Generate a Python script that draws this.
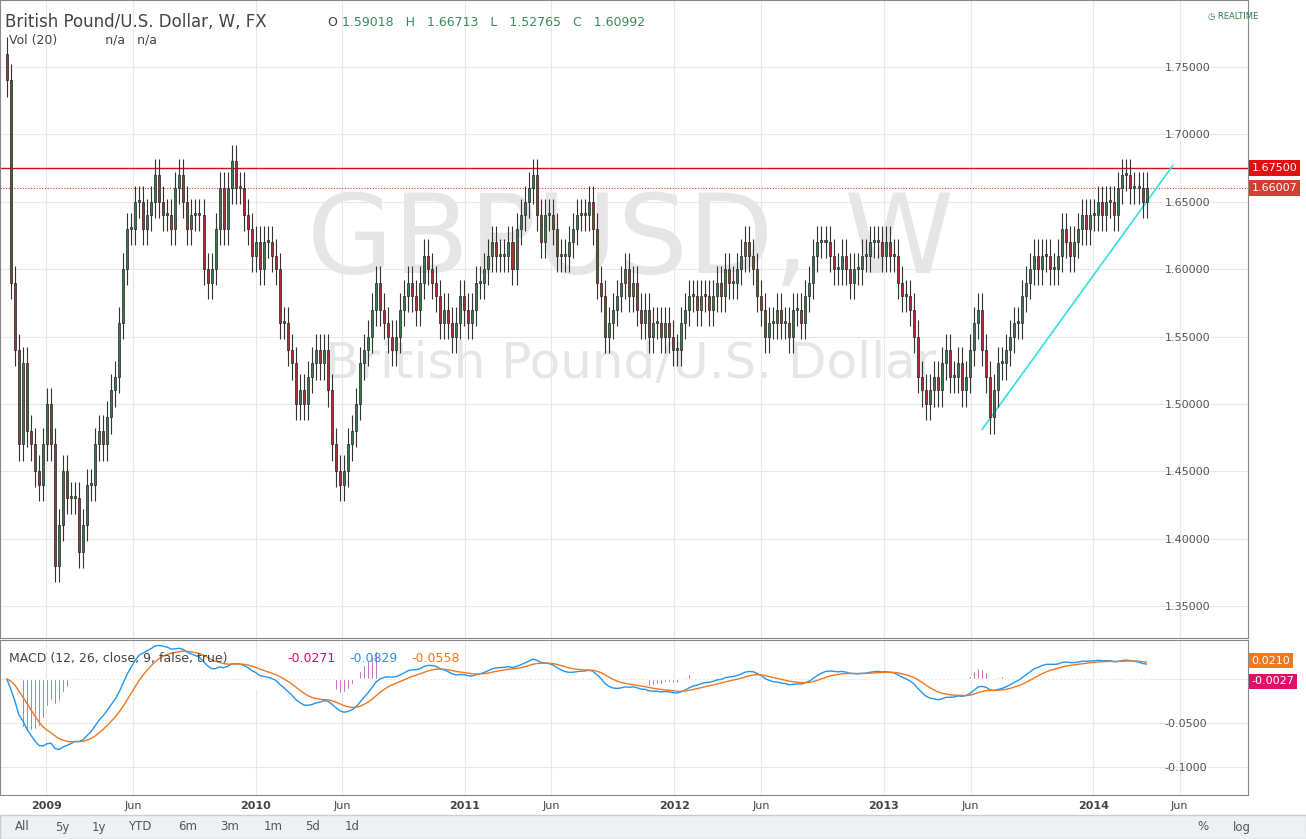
import numpy as np, pandas as pd, matplotlib
matplotlib.use("Agg")
import matplotlib.pyplot as plt, seaborn as sns

closes = [1.74,1.59,1.54,1.47,1.53,1.48,1.47,1.45,1.44,1.47,
 1.50,1.47,1.38,1.41, 1.45,1.43,1.43,1.43, 1.39,1.41,1.44,1.44, 1.47,1.48,1.47,1.49,
 1.51,1.52,1.56,1.60, 1.63,1.63,1.65,1.65, 1.63,1.64,1.65,1.67, 1.65,1.64,1.64,1.63,1.66,
 1.67,1.65,1.63,1.64,
 1.64,1.64,1.60,1.59, 1.60,1.63,1.66,1.63, 1.66,1.68,1.66,1.66, 1.64,1.63,1.61,1.62,
 1.60,1.62,1.62,1.61,1.60, 1.56,1.56,1.54,1.53, 1.50,1.51,1.50,1.52, 1.53,1.54,1.53,1.54,
 1.51,1.47,1.45,1.44, 1.45,1.47,1.48,1.50, 1.53,1.54,1.55,1.57, 1.59,1.57,1.56,1.55,
 1.54,1.55,1.57,1.58, 1.59,1.58,1.57,1.59, 1.61,1.60,1.59,1.58, 1.56,1.57,1.56,1.55,
 1.56,1.58,1.57,
 1.56,1.57,1.59,1.59, 1.60,1.61,1.62,1.61, 1.61,1.61,1.62,1.60, 1.63,1.64,1.65,1.66,
 1.67,1.64,1.62,1.64, 1.64,1.63,1.61,1.61, 1.61,1.62,1.63,1.64, 1.64,1.64,1.65,1.63,
 1.59,1.58,1.55,1.56, 1.57,1.58,1.59,1.60, 1.58,1.59,1.57,1.56, 1.57,1.55,1.56,
 1.56,1.55,1.56,1.55,
 1.54,1.54,1.56,1.57, 1.58,1.58,1.57,1.58, 1.58,1.57,1.58,1.59, 1.58,1.60,1.59,
 1.59,1.60,1.61,1.62,
 1.61,1.60,1.58,1.57, 1.55,1.56,1.56,1.57, 1.56,1.56,1.55,1.57, 1.57,1.56,1.58,1.59,
 1.61,1.62,1.62,1.62, 1.61,1.60,1.60,1.61, 1.60,1.59,1.60,1.60, 1.61,1.61,1.62,1.62,
 1.62,1.61,1.62,
 1.61,1.61,1.59,1.58, 1.58,1.57,1.55,1.52, 1.51,1.50,1.51,1.52, 1.51,1.53,1.54,1.52,
 1.52,1.53,1.51,1.52, 1.54,1.56,1.57,1.54, 1.52,1.49,1.51,1.53, 1.53,1.54,1.55,1.56,
 1.56,1.58,1.59,1.60, 1.61,1.60,1.61,1.61, 1.60,1.60,1.61,1.63, 1.62,1.61,1.62,1.63,
 1.64,1.63,1.64,1.64,
 1.65,1.64,1.65,1.65, 1.64,1.66,1.67,1.67, 1.66,1.66,1.66,1.65, 1.66]
first_open = 1.76
resistance = 1.675
last_price = 1.66007
trend_x = ["2013-06-21", "2014-05-20"]
trend_y = [1.481, 1.677]
year_ticks = ["2009","Jun","2010","Jun","2011","Jun","2012","Jun","2013","Jun","2014","Jun"]

n = len(closes)
dates = pd.date_range(end="2014-04-04", periods=n, freq="7D")
opens = [first_open] + closes[:-1]
df = pd.DataFrame({"date": dates, "open": opens, "close": closes})
df["high"] = df[["open","close"]].max(axis=1) + 0.012
df["low"] = df[["open","close"]].min(axis=1) - 0.012

c = df["close"]
ema12 = c.ewm(span=12, adjust=False).mean(); ema26 = c.ewm(span=26, adjust=False).mean()
df["macd"] = ema12 - ema26
df["signal"] = df["macd"].ewm(span=9, adjust=False).mean()
df["hist"] = df["macd"] - df["signal"]

sns.set_theme(style="white")
plt.rcParams['font.family'] = ['DejaVu Sans']
fig = plt.figure(figsize=(13.06, 8.39), dpi=100)
W, H = 1306, 839
ax = fig.add_axes([0, 1-638/H, 1248/W, 638/H])
ax2 = fig.add_axes([0, 1-795/H, 1248/W, 155/H], sharex=ax)

xmin, xmax = pd.Timestamp("2008-10-12"), pd.Timestamp("2014-09-28")
for a in (ax, ax2):
    a.set_facecolor("white")
    a.grid(True, color="#e8e8e8", lw=0.8)
    a.yaxis.tick_right()
    a.tick_params(axis="y", labelsize=8, colors="#555", length=0, pad=-60)
    for s in a.spines.values(): s.set_color("#888"); s.set_linewidth(0.8)
ax.set_xlim(xmin, xmax); ax.set_ylim(1.3263, 1.7997)
ax.set_yticks(np.arange(1.35, 1.76, 0.05))
ax.yaxis.set_major_formatter(plt.FuncFormatter(lambda v,p: f"{v:.5f}"))
ax2.set_ylim(-0.1318, 0.0443)
ax2.set_yticks([0.0, -0.05, -0.10])
ax2.yaxis.set_major_formatter(plt.FuncFormatter(lambda v,p: f"{v:.4f}" if v<0 else ""))
ax.tick_params(axis="x", labelbottom=False, length=0)

ax.text(0.505, 0.62, "GBPUSD, W", transform=ax.transAxes, ha="center", va="center", fontsize=80, color="#e6e6e6")
ax.text(0.505, 0.43, "British Pound/U.S. Dollar", transform=ax.transAxes, ha="center", va="center", fontsize=36, color="#e6e6e6")

up = df["close"] >= df["open"]
colr = np.where(up, "#3c7a4f", "#a63232")
ax.vlines(df["date"], df["low"], df["high"], color="#333", lw=0.8, zorder=3)
ax.bar(df["date"], (df["close"]-df["open"]).abs().clip(lower=0.0015), bottom=df[["open","close"]].min(axis=1),
       width=3.5, color=colr, edgecolor="#222", lw=0.5, zorder=4)
ax.axhline(resistance, color="#cc1111", lw=1)
ax.axhline(last_price, color="#cc4433", lw=0.8, ls=(0,(1,1.5)))
sns.lineplot(x=pd.to_datetime(trend_x), y=trend_y, ax=ax, color="#33e0e0", lw=1.2)
for val, fc in [(resistance, "#e01010"), (last_price, "#d04030")]:
    ax.text(1.003, val, f"{val:.5f}", transform=ax.get_yaxis_transform(), fontsize=8, color="white",
            va="center", ha="left", bbox=dict(boxstyle="square,pad=0.25", fc=fc, ec="none"), clip_on=False)

ax.text(0.004, 0.965, "British Pound/U.S. Dollar, W, FX", transform=ax.transAxes, fontsize=12, color="#444", va="center")
ax.text(0.262, 0.965, "O", transform=ax.transAxes, fontsize=9, color="#444", va="center")
ax.text(0.274, 0.965, "1.59018   H   1.66713   L   1.52765   C   1.60992", transform=ax.transAxes, fontsize=9, color="#3a8a5a", va="center")
ax.text(0.007, 0.937, "Vol (20)            n/a   n/a", transform=ax.transAxes, fontsize=9, color="#444", va="center")
fig.text(0.925, 0.977, "◷ REALTIME", fontsize=6, color="#2a7a4a")

ax2.bar(df["date"], df["hist"]*2, width=2, color="#a0209a", zorder=2)
sns.lineplot(x=df["date"], y=df["macd"], ax=ax2, color="#2196f3", lw=1)
sns.lineplot(x=df["date"], y=df["signal"], ax=ax2, color="#f07820", lw=1)
ax2.set_xlabel(""); ax2.set_ylabel(""); ax.set_ylabel("")
ax2.text(0.007, 0.88, "MACD (12, 26, close, 9, false, true)", transform=ax2.transAxes, fontsize=9, color="#444", va="center")
ax2.text(0.23, 0.88, "-0.0271", transform=ax2.transAxes, fontsize=9, color="#d01070", va="center")
ax2.text(0.28, 0.88, "-0.0829", transform=ax2.transAxes, fontsize=9, color="#2196f3", va="center")
ax2.text(0.33, 0.88, "-0.0558", transform=ax2.transAxes, fontsize=9, color="#f07820", va="center")
for val, fc in [(0.0210, "#f07820"), (-0.0027, "#e0106a")]:
    ax2.text(1.003, val, f"{val:.4f}", transform=ax2.get_yaxis_transform(), fontsize=8, color="white",
             va="center", ha="left", bbox=dict(boxstyle="square,pad=0.25", fc=fc, ec="none"), clip_on=False)

tick_dates = pd.to_datetime(["2009-01-01","2009-06-01","2010-01-01","2010-06-01","2011-01-01","2011-06-01",
    "2012-01-01","2012-06-01","2013-01-01","2013-06-01","2014-01-01","2014-06-01"])
ax2.set_xticks(tick_dates); ax2.set_xticklabels(year_ticks)
for lbl, t in zip(ax2.get_xticklabels(), year_ticks):
    if t != "Jun": lbl.set_fontweight("bold")
ax2.tick_params(axis="x", labelsize=8, colors="#444", length=0, pad=4)

fig.patches.append(plt.Rectangle((0, 0), 1, 24/H, transform=fig.transFigure, fc="#eef1f4", ec="#ccc"))
for xp, t in [(15,"All"),(55,"5y"),(92,"1y"),(128,"YTD"),(178,"6m"),(220,"3m"),(264,"1m"),(305,"5d"),(345,"1d"),(1197,"%"),(1233,"log")]:
    fig.text(xp/W, 12/H, t, fontsize=8.5, color="#555", va="center")
fig.savefig("out.png", dpi=100)
